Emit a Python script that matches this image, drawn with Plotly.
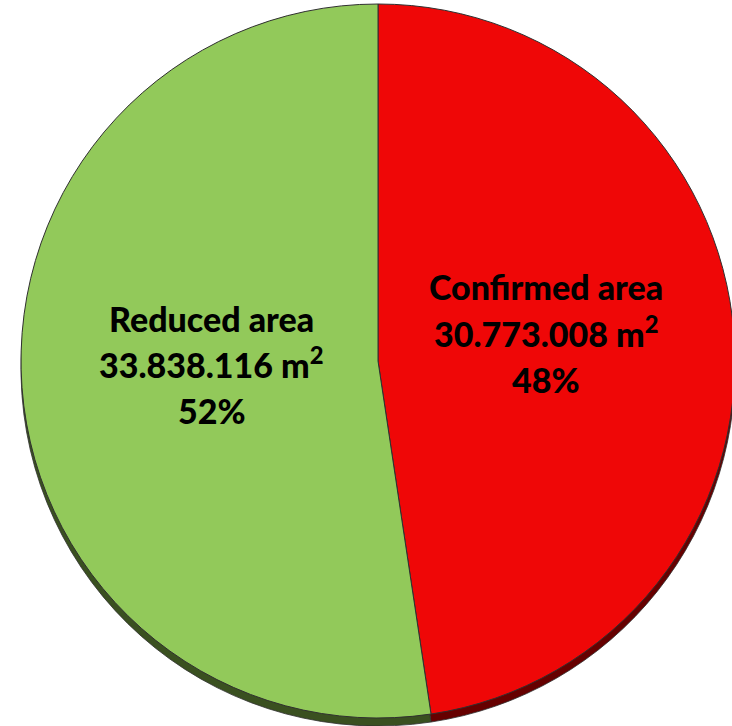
import plotly.graph_objects as go

categories = ["Confirmed area", "Reduced area"]
areas_m2 = [30773008, 33838116]
colors = ["#EF0707", "#92C95A"]
rim_colors = ["#660000", "#3A5020"]

W, H = 760, 726
total = sum(areas_m2)
pcts = [round(v / total * 100) for v in areas_m2]

def fmt(v):
    return f"{v:,}".replace(",", ".")

# pie geometry (pixels)
cx, cy, r = 378, 361, 357
rim = 8

def dom(cx, cy, r):
    return dict(x=[(cx - r) / W, (cx + r) / W], y=[(H - (cy + r)) / H, (H - (cy - r)) / H])

fig = go.Figure()
fig.add_trace(go.Pie(
    labels=categories, values=areas_m2, sort=False, direction="clockwise", rotation=0,
    marker=dict(colors=rim_colors, line=dict(color="#303030", width=0.8)),
    textinfo="none", hoverinfo="skip", domain=dom(cx, cy + rim, r), showlegend=False,
))
fig.add_trace(go.Pie(
    labels=categories, values=areas_m2, sort=False, direction="clockwise", rotation=0,
    marker=dict(colors=colors, line=dict(color="#303030", width=1)),
    textinfo="none", domain=dom(cx, cy, r), showlegend=False,
))

label_pos = {"Confirmed area": (546, [286, 332, 380]), "Reduced area": (212, [318, 363, 410])}
for cat, v, p in zip(categories, areas_m2, pcts):
    x, ys = label_pos[cat]
    lines = [cat, f"{fmt(v)} m<sup>2</sup>", f"{p}%"]
    for line, y in zip(lines, ys):
        fig.add_annotation(
            x=x / W, y=1 - y / H, xref="paper", yref="paper", text=line,
            showarrow=False, xanchor="center", yanchor="middle",
            font=dict(family="Lato, Open Sans, sans-serif", size=34, color="black", weight=900),
        )

fig.update_layout(
    width=W, height=H, margin=dict(l=0, r=0, t=0, b=0),
    paper_bgcolor="white", plot_bgcolor="white", showlegend=False,
)

fig.write_html(
    "out.html",
    config={"displayModeBar": False},
    post_script="document.body.style.margin='0';document.body.style.overflow='hidden';",
)
